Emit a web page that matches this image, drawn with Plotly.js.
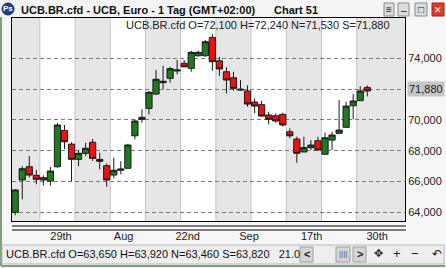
<!DOCTYPE html>
<html><head><meta charset="utf-8">
<script src="https://cdn.plot.ly/plotly-3.0.1.min.js"></script>
<style>html,body{margin:0;padding:0;background:#f6f6f6;overflow:hidden}#chart{width:446px;height:268px}</style>
</head><body><div id="chart"></div>
<script>
// ---- data (daily candles) ----
const dayIndex = [0,1,2,3,4,5,6,7,8,9,10,11,12,13,14,15,16,17,18,19,20,21,22,23,24,25,26,27,28,29,30,31,32,33,34,35,36,37,38,39,40,41,42,43,44,45,46,47,48,49,50];
const openP  = [64.00,66.10,66.96,66.40,66.25,66.03,66.96,69.32,68.43,67.44,67.83,68.55,67.31,67.03,66.42,66.73,66.86,68.97,70.04,70.75,71.68,72.42,72.70,73.18,73.68,73.35,74.17,74.17,75.36,73.84,73.13,72.74,72.00,71.88,71.16,70.99,70.32,70.27,70.36,69.23,68.76,67.92,68.20,68.65,67.77,68.69,69.13,69.52,70.92,71.25,72.10];
const highP  = [65.50,67.00,67.66,66.75,66.40,66.94,69.80,69.67,68.56,68.05,68.52,68.76,67.87,67.18,67.55,67.33,68.45,70.04,70.69,71.88,73.24,73.52,73.45,73.89,73.89,74.49,74.50,75.19,75.58,74.10,73.42,73.13,72.59,72.25,71.40,71.25,70.53,70.43,70.47,69.45,68.91,68.91,68.69,68.91,69.17,69.23,71.29,71.18,71.68,72.20,72.24];
const lowP   = [63.80,64.85,66.27,65.82,65.73,65.73,66.90,68.11,66.03,67.00,67.66,67.33,66.79,65.66,66.21,66.47,66.86,68.74,69.82,70.36,71.62,71.99,72.42,72.96,73.42,73.13,74.10,74.10,73.20,72.87,71.73,71.90,71.90,70.86,70.43,70.20,69.71,69.82,69.56,68.81,67.22,67.90,68.05,68.00,67.77,68.05,69.10,69.52,70.04,71.25,71.53];
const closeP = [65.45,66.83,66.42,66.14,66.10,66.68,69.67,68.58,67.44,67.83,68.16,67.50,67.44,66.10,66.73,66.81,68.37,69.93,70.17,71.79,72.64,72.51,73.33,73.24,73.45,74.39,74.39,75.08,73.78,73.31,72.59,72.05,71.95,71.03,70.90,70.25,70.04,69.93,69.67,68.97,67.83,68.20,68.37,68.05,68.84,69.02,69.34,70.90,71.23,71.88,71.88];
const xTickPos   = [6.5, 15.4, 24.5, 33.2, 42.1, 51.4];
const xTickText  = ['29th','Aug','22nd','Sep','17th','30th'];
const yTickVals  = [64,66,68,70,72,74];
const yTickText  = ['64,000','66,000','68,000','70,000','72,000','74,000'];
const weekEdges  = [-0.455,3.5,8.5,13.5,18.5,23.5,28.5,33.5,38.5,43.5,48.5,55.36];
const lastClose  = '71,880';
const infoText   = 'UCB.BR.cfd O=72,100 H=72,240 N=71,530 S=71,880';
const statusText = 'UCB.BR.cfd O=63,650 H=63,920 N=63,460 S=63,820   21.0';
const winTitle   = 'UCB.BR.cfd - UCB, Euro - 1 Tag (GMT+02:00)';
const chartName  = 'Chart 51';

// ---- layout helpers (pixel -> paper) ----
const W=446,H=268,L=12,R=41,T=18,B=47;
const PW=W-L-R, PH=H-T-B;
const px=x=>(x-L)/PW, py=y=>(H-B-y)/PH;
const FONT='Liberation Sans, Arial, sans-serif';

const shapes=[];
for(let i=0;i<weekEdges.length-1;i++){
  shapes.push({type:'rect',xref:'x',yref:'paper',x0:weekEdges[i],x1:weekEdges[i+1],y0:0,y1:1,
    fillcolor: i%2===0?'#e6e6e6':'#ffffff',line:{width:0},layer:'below'});
  if(i>0) shapes.push({type:'line',xref:'x',yref:'paper',x0:weekEdges[i],x1:weekEdges[i],y0:0,y1:1,
    line:{color:'#c4c4c4',width:1},layer:'below'});
}
// window frame
shapes.push({type:'rect',xref:'paper',yref:'paper',x0:px(0),x1:px(446),y0:py(0),y1:py(17),fillcolor:'#f4f4f4',line:{width:0},layer:'below'});
shapes.push({type:'line',xref:'paper',yref:'paper',x0:px(1),x1:px(1),y0:py(17),y1:py(266),line:{color:'#7f9f7f',width:2}});
shapes.push({type:'line',xref:'paper',yref:'paper',x0:px(1),x1:px(445),y0:py(266),y1:py(266),line:{color:'#7f9f7f',width:2}});
// double line under plot
shapes.push({type:'line',xref:'paper',yref:'paper',x0:px(12),x1:px(406),y0:py(226),y1:py(226),line:{color:'#000',width:1}});
shapes.push({type:'line',xref:'paper',yref:'paper',x0:px(12),x1:px(406),y0:py(230),y1:py(230),line:{color:'#000',width:1}});
// status bar
shapes.push({type:'rect',xref:'paper',yref:'paper',x0:px(2),x1:px(444),y0:py(245),y1:py(264),fillcolor:'#eeeeee',line:{color:'#b8b8b8',width:1}});
// status buttons
[[300,313],[336,350],[353,366]].forEach(([a,b])=>shapes.push({type:'rect',xref:'paper',yref:'paper',x0:px(a),x1:px(b),y0:py(247),y1:py(262),fillcolor:'#d4d4d4',line:{color:'#a0a0a0',width:1}}));
// title bar buttons
[[384,394],[398,409],[415,427],[432,444]].forEach(([a,b],i)=>shapes.push({type:'rect',xref:'paper',yref:'paper',x0:px(a),x1:px(b),y0:py(3),y1:py(16),
  fillcolor: i===3?'#e03a2a':'#dcdcdc',line:{color:i===3?'#a02010':'#8a8a8a',width:1}}));
// Ps icon
shapes.push({type:'circle',xref:'paper',yref:'paper',x0:px(2),x1:px(14),y0:py(3),y1:py(15),fillcolor:'#24408a',line:{color:'#102060',width:1}});

const ann=[
  {text:winTitle,x:px(19),y:py(9.5),xanchor:'left',yanchor:'middle',font:{family:FONT,size:11,color:'#111',weight:'bold'}},
  {text:chartName,x:px(272),y:py(9.5),xanchor:'left',yanchor:'middle',font:{family:FONT,size:11,color:'#111',weight:'bold'}},
  {text:'Ps',x:px(8),y:py(9),xanchor:'center',yanchor:'middle',font:{family:FONT,size:8,color:'#fff',weight:'bold'}},
  {text:'≡',x:px(389),y:py(9.5),xanchor:'center',yanchor:'middle',font:{family:FONT,size:10,color:'#222'}},
  {text:'–',x:px(403.5),y:py(10),xanchor:'center',yanchor:'middle',font:{family:FONT,size:10,color:'#222'}},
  {text:'□',x:px(421),y:py(9.5),xanchor:'center',yanchor:'middle',font:{family:FONT,size:10,color:'#222'}},
  {text:'✕',x:px(438),y:py(9.5),xanchor:'center',yanchor:'middle',font:{family:FONT,size:9,color:'#fff'}},
  {text:infoText,x:px(392),y:py(25),xanchor:'right',yanchor:'middle',font:{family:FONT,size:11,color:'#222'}},
  {text:lastClose,x:px(407),y:py(89),xanchor:'left',yanchor:'middle',bgcolor:'#c6c6c6',borderpad:1,font:{family:FONT,size:11,color:'#222'}},
  {text:statusText,x:px(4),y:py(254),xanchor:'left',yanchor:'middle',font:{family:FONT,size:11,color:'#111'}},
  {text:'<',x:px(306.5),y:py(254),xanchor:'center',yanchor:'middle',font:{family:FONT,size:11,color:'#222',weight:'bold'}},
  {text:'||||',x:px(343),y:py(254),xanchor:'center',yanchor:'middle',font:{family:FONT,size:8,color:'#555'}},
  {text:'>',x:px(359.5),y:py(254),xanchor:'center',yanchor:'middle',font:{family:FONT,size:11,color:'#222',weight:'bold'}},
  {text:'✥',x:px(378),y:py(254),xanchor:'center',yanchor:'middle',font:{family:'DejaVu Sans',size:11,color:'#222'}},
  {text:'+',x:px(397),y:py(254),xanchor:'center',yanchor:'middle',font:{family:FONT,size:13,color:'#222'}},
  {text:'−',x:px(415),y:py(254),xanchor:'center',yanchor:'middle',font:{family:FONT,size:13,color:'#222'}},
  {text:'↶',x:px(437),y:py(254),xanchor:'center',yanchor:'middle',font:{family:'DejaVu Sans',size:12,color:'#222'}}
].map(a=>Object.assign({xref:'paper',yref:'paper',showarrow:false},a));

const trace={type:'candlestick',x:dayIndex,open:openP,high:highP,low:lowP,close:closeP,
  increasing:{line:{color:'#1a1a1a',width:1},fillcolor:'#1f7a1f'},
  decreasing:{line:{color:'#1a1a1a',width:1},fillcolor:'#ee1111'},
  whiskerwidth:0,hoverinfo:'skip'};

const layout={width:W,height:H,margin:{l:L,r:R,t:T,b:B,pad:0},
  paper_bgcolor:'#f6f6f6',plot_bgcolor:'#ffffff',showlegend:false,boxgap:0.12,boxgroupgap:0,
  xaxis:{range:[-0.455,55.36],rangeslider:{visible:false},tickvals:xTickPos,ticktext:xTickText,
    showgrid:false,zeroline:false,showline:true,mirror:true,linecolor:'#000',linewidth:1,
    ticks:'outside',ticklen:5,tickcolor:'rgba(0,0,0,0)',tickfont:{family:FONT,size:11,color:'#222'}},
  yaxis:{range:[63.435,76.62],side:'right',tickvals:yTickVals,ticktext:yTickText,
    showgrid:true,gridcolor:'#7a7a7a',griddash:'4px,3px',gridwidth:1,zeroline:false,
    showline:true,mirror:true,linecolor:'#000',linewidth:1,ticks:'',
    tickfont:{family:FONT,size:11,color:'#222'}},
  shapes:shapes,annotations:ann};

Plotly.newPlot('chart',[trace],layout,{staticPlot:true,displayModeBar:false});
</script></body></html>
